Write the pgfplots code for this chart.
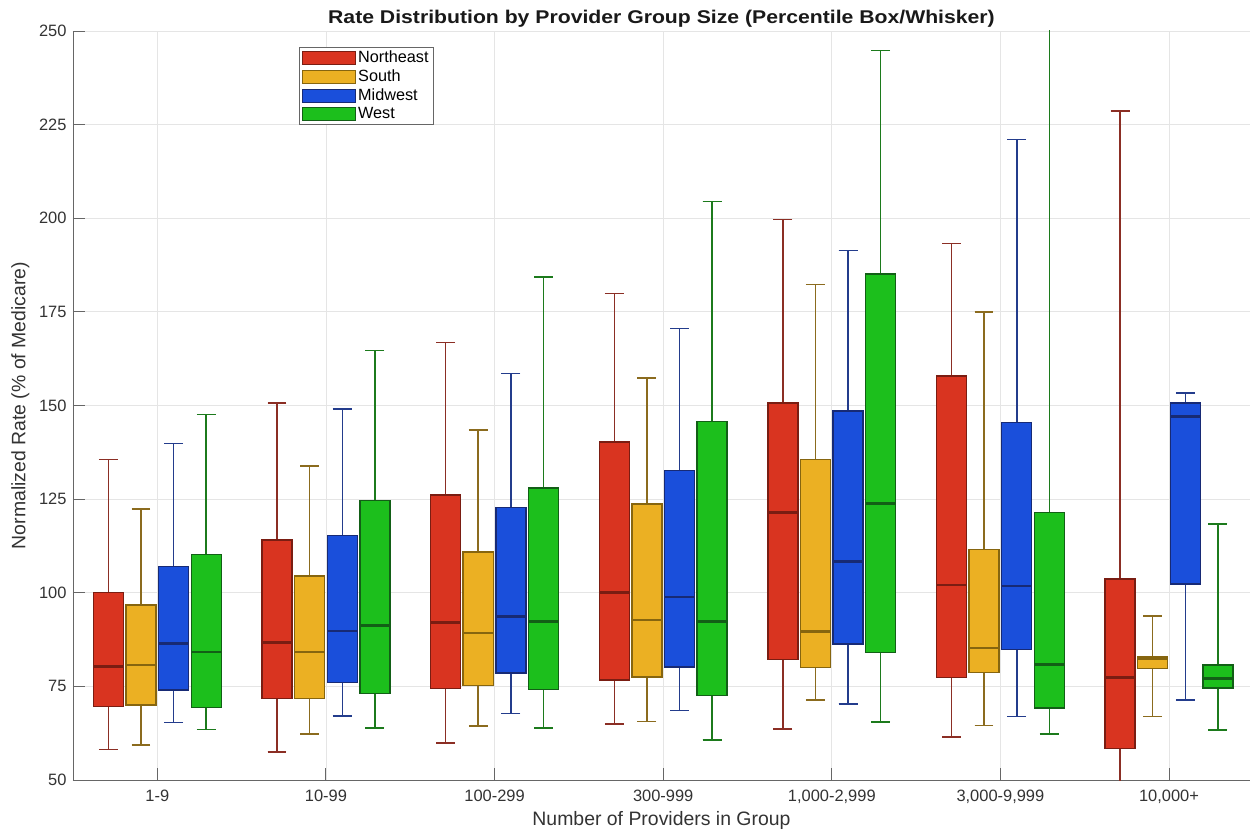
\documentclass[border=0pt]{standalone}
\usepackage{pgfplots}
\pgfplotsset{compat=1.18}
\usepackage{pgfplotstable}
\usepgfplotslibrary{statistics}
\usepackage{fontspec}
\setmainfont{Liberation Sans}

\makeatletter
\pgfplotsset{
  boxplot prepared from table/.code={%
    \def\tikz@plot@handler{\pgfplotsplothandlerboxplotprepared}%
    \pgfplotsset{/pgfplots/boxplot prepared from table/.cd, #1}%
  },
  /pgfplots/boxplot prepared from table/.cd,
    table/.code={\pgfplotstablecopy{#1}\to\boxplot@datatable},
    row/.initial=0,
    make style readable from table/.style={
      #1/.code={%
        \pgfplotstablegetelem{\pgfkeysvalueof{/pgfplots/boxplot prepared from table/row}}{##1}\of\boxplot@datatable
        \pgfplotsset{boxplot/#1/.expand once={\pgfplotsretval}}%
      }
    },
    make style readable from table=lower whisker,
    make style readable from table=upper whisker,
    make style readable from table=lower quartile,
    make style readable from table=upper quartile,
    make style readable from table=median
}
\makeatother

\definecolor{nefill}{HTML}{D93420}\definecolor{needge}{HTML}{7A1D12}\definecolor{newh}{HTML}{8B2E24}
\definecolor{sfill}{HTML}{EBB023}\definecolor{sedge}{HTML}{86650F}\definecolor{swh}{HTML}{8B6B1E}
\definecolor{mfill}{HTML}{1A4FDB}\definecolor{medge}{HTML}{172A75}\definecolor{mwh}{HTML}{233C8C}
\definecolor{wfill}{HTML}{1CBF1C}\definecolor{wedge}{HTML}{125F16}\definecolor{wwh}{HTML}{1C7A1C}

% columns: lower whisker, lower quartile, median, upper quartile, upper whisker
\pgfplotstableread{
lw lq med uq uw
58.2 69.6 80.3 100.0 135.6
57.5 71.7 86.7 114.1 150.6
59.9 74.4 92.1 126.1 166.8
64.9 76.7 100.0 140.3 179.9
63.6 82.1 121.4 150.7 199.7
61.5 77.3 102.1 157.9 193.2
40.0 58.4 77.3 103.7 228.6
}\dataNE
\pgfplotstableread{
lw lq med uq uw
59.3 70.0 80.7 96.7 122.3
62.3 71.8 84.2 104.5 133.8
64.4 75.2 89.2 110.9 143.5
65.6 77.5 92.7 123.7 157.4
71.3 80.0 89.6 135.5 182.3
64.6 78.7 85.2 111.6 175.0
66.9 79.8 82.5 83.0 93.8
}\dataS
\pgfplotstableread{
lw lq med uq uw
65.4 74.0 86.5 107.0 139.9
67.1 76.0 89.8 115.3 149.1
67.7 78.6 93.6 122.7 158.5
68.5 80.2 98.9 132.7 170.6
70.3 86.3 108.3 148.5 191.4
67.0 84.8 101.8 145.4 221.0
71.3 102.3 147.0 150.7 153.3
}\dataMW
\pgfplotstableread{
lw lq med uq uw
63.5 69.3 84.2 110.2 147.6
63.9 73.1 91.3 124.6 164.7
63.9 74.2 92.4 128.0 184.3
60.7 72.5 92.4 145.8 204.5
65.5 84.0 123.9 185.1 244.8
62.3 69.2 80.9 121.5 265.0
63.4 74.6 77.1 80.7 118.4
}\dataW

\begin{document}
\begin{tikzpicture}
\begin{axis}[
  scale only axis, width=1177bp, height=749bp,
  xmin=-0.5, xmax=6.48, ymin=50, ymax=250,
  boxplot/draw direction=y,
  axis x line=bottom, axis y line=left,
  axis line style={-, draw=gray!80!black, line width=0.9bp},
  xtick={0,...,6},
  xticklabels={1-9,10-99,100-299,300-999,{1,000-2,999},{3,000-9,999},{10,000+}},
  ytick={50,75,...,250},
  tick align=inside, major tick length=12bp,
  tick style={draw=gray!80!black, line width=0.9bp},
  grid=major, major grid style={draw=black!10, line width=0.8bp},
  /pgf/number format/assume math mode=true,
  tick label style={font=\fontsize{16.5}{19}\selectfont, text=black!80},
  xticklabel style={yshift=-7bp},
  yticklabel style={xshift=-3bp},
  xlabel={Number of Providers in Group},
  ylabel={Normalized Rate (\% of Medicare)},
  label style={font=\fontsize{19.5}{23}\selectfont, text=black!80},
  xlabel style={at={(axis description cs:0.5,0)}, anchor=north, yshift=-28bp},
  ylabel style={at={(axis description cs:0,0.5)}, anchor=south, yshift=40bp},
  title={\scalebox{1.15}[1]{\bfseries Rate Distribution by Provider Group Size (Percentile Box/Whisker)}},
  title style={font=\fontsize{18.5}{22}\selectfont, text=black!90, at={(axis description cs:0.5,1)}, anchor=south, yshift=-6bp},
  legend style={at={(axis description cs:0.192,0.979)}, anchor=north west,
    draw=gray!80!black, line width=0.8bp, fill=white,
    font=\fontsize{16.3}{18.5}\selectfont, inner xsep=3bp, inner ysep=2bp,
    row sep=1.6bp, cells={anchor=west}},
  legend image code/.code={\draw[#1, line width=0.8bp] (-1.5bp,-6.5bp) rectangle (51.5bp,6.5bp);},
]
\addlegendimage{fill=nefill, draw=needge}
\addlegendimage{fill=sfill, draw=sedge}
\addlegendimage{fill=mfill, draw=medge}
\addlegendimage{fill=wfill, draw=wedge}
\legend{Northeast,South,Midwest,West}

\pgfplotsinvokeforeach{0,...,6}{
\addplot[forget plot, draw=needge, fill=nefill, line width=1.4bp,
  boxplot/every whisker/.style={draw=newh, line width=1.5bp},
  boxplot/every median/.style={draw=needge, line width=2.6bp},
  boxplot prepared from table={table=\dataNE, row=#1, lower whisker=lw, lower quartile=lq, median=med, upper quartile=uq, upper whisker=uw},
  boxplot prepared={draw position=#1-0.29, box extend=0.178, whisker extend=0.112}] coordinates {};
\addplot[forget plot, draw=sedge, fill=sfill, line width=1.4bp,
  boxplot/every whisker/.style={draw=swh, line width=1.5bp},
  boxplot/every median/.style={draw=sedge, line width=2.6bp},
  boxplot prepared from table={table=\dataS, row=#1, lower whisker=lw, lower quartile=lq, median=med, upper quartile=uq, upper whisker=uw},
  boxplot prepared={draw position=#1-0.097, box extend=0.178, whisker extend=0.112}] coordinates {};
\addplot[forget plot, draw=medge, fill=mfill, line width=1.4bp,
  boxplot/every whisker/.style={draw=mwh, line width=1.5bp},
  boxplot/every median/.style={draw=medge, line width=2.6bp},
  boxplot prepared from table={table=\dataMW, row=#1, lower whisker=lw, lower quartile=lq, median=med, upper quartile=uq, upper whisker=uw},
  boxplot prepared={draw position=#1+0.097, box extend=0.178, whisker extend=0.112}] coordinates {};
\addplot[forget plot, draw=wedge, fill=wfill, line width=1.4bp,
  boxplot/every whisker/.style={draw=wwh, line width=1.5bp},
  boxplot/every median/.style={draw=wedge, line width=2.6bp},
  boxplot prepared from table={table=\dataW, row=#1, lower whisker=lw, lower quartile=lq, median=med, upper quartile=uq, upper whisker=uw},
  boxplot prepared={draw position=#1+0.29, box extend=0.178, whisker extend=0.112}] coordinates {};
}
\end{axis}
\pgfresetboundingbox
\path[use as bounding box] (current axis.south west) ++(-73bp,-51bp) rectangle ++(1252bp,831bp);
\end{tikzpicture}
\end{document}
